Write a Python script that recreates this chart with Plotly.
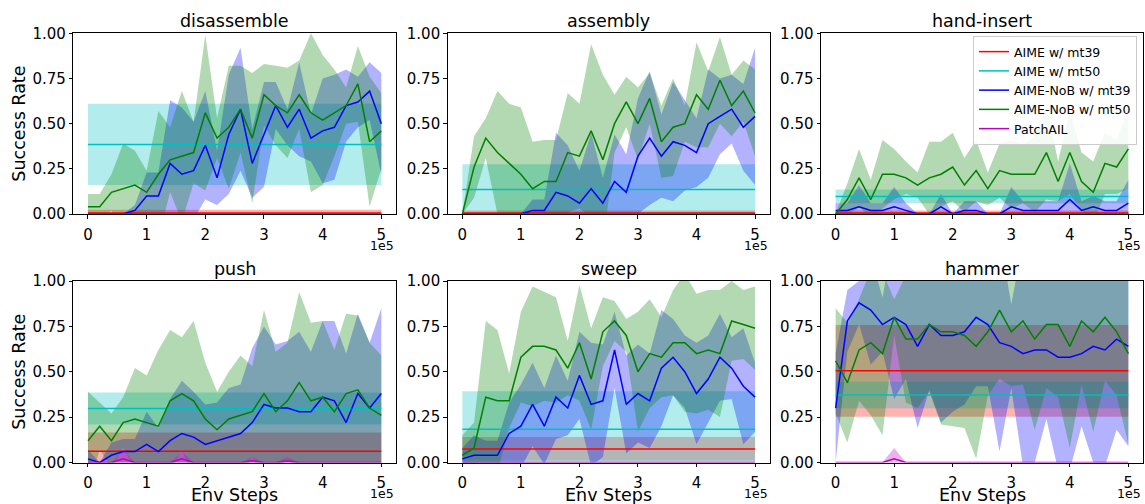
import numpy as np
import plotly.graph_objects as go

# ---------------- data ----------------
TASKS = ["disassemble", "assembly", "hand-insert", "push", "sweep", "hammer"]
STEPS = [0, 20000, 40000, 60000, 80000, 100000, 120000, 140000, 160000, 180000,
         200000, 220000, 240000, 260000, 280000, 300000, 320000, 340000, 360000,
         380000, 400000, 420000, 440000, 460000, 480000, 500000]
X_TICKS = [0, 100000, 200000, 300000, 400000, 500000]
X_TICKTEXT = ["0", "1", "2", "3", "4", "5"]
Y_TICKS = [0, 0.25, 0.5, 0.75, 1.0]

# AIME (constant baselines) per task, in TASKS order
AIME_MT39_MEAN = [0.006, 0.005, 0.005, 0.062, 0.075, 0.505]
AIME_MT39_STD = [0.018, 0.015, 0.015, 0.103, 0.065, 0.253]
AIME_MT50_MEAN = [0.385, 0.135, 0.097, 0.297, 0.183, 0.372]
AIME_MT50_STD = [0.225, 0.140, 0.038, 0.088, 0.210, 0.073]

# AIME-NoB w/ mt39 (blue)
disassemble_nob39_mean = [0, 0, 0, 0, 0.02, 0.10, 0.10, 0.28, 0.22, 0.24, 0.38, 0.20, 0.44, 0.58, 0.28, 0.44, 0.60, 0.48, 0.58, 0.42, 0.46, 0.48, 0.60, 0.62, 0.68, 0.50]
disassemble_nob39_std = [0, 0, 0, 0, 0.03, 0.13, 0.13, 0.35, 0.37, 0.27, 0.30, 0.15, 0.33, 0.34, 0.19, 0.29, 0.13, 0.10, 0.26, 0.13, 0.29, 0.29, 0.20, 0.14, 0.16, 0.28]
assembly_nob39_mean = [0, 0, 0, 0, 0, 0, 0.02, 0.02, 0.12, 0.10, 0.06, 0.14, 0.06, 0.18, 0.12, 0.32, 0.42, 0.32, 0.40, 0.38, 0.34, 0.50, 0.54, 0.58, 0.48, 0.54]
assembly_nob39_std = [0, 0, 0, 0, 0, 0, 0.06, 0.06, 0.33, 0.28, 0.18, 0.31, 0.14, 0.26, 0.21, 0.32, 0.37, 0.23, 0.33, 0.25, 0.19, 0.30, 0.21, 0.19, 0.24, 0.38]
handinsert_nob39_mean = [0.02, 0.02, 0.04, 0.02, 0.02, 0.04, 0.02, 0, 0, 0.04, 0, 0.02, 0.02, 0, 0, 0.04, 0.02, 0.02, 0.02, 0.02, 0.08, 0.02, 0.04, 0.02, 0.02, 0.06]
handinsert_nob39_std = [0.04, 0.04, 0.12, 0.04, 0.04, 0.11, 0.04, 0, 0, 0.07, 0, 0.05, 0.05, 0, 0, 0.11, 0.05, 0.05, 0.05, 0.05, 0.20, 0.05, 0.06, 0.05, 0.05, 0.13]
push_nob39_mean = [0.02, 0, 0.04, 0.06, 0.06, 0.10, 0.06, 0.12, 0.16, 0.14, 0.10, 0.12, 0.14, 0.16, 0.22, 0.32, 0.30, 0.30, 0.28, 0.28, 0.36, 0.34, 0.22, 0.38, 0.30, 0.38]
push_nob39_std = [0.05, 0, 0.07, 0.07, 0.07, 0.18, 0.13, 0.23, 0.29, 0.25, 0.22, 0.21, 0.27, 0.27, 0.41, 0.43, 0.35, 0.37, 0.44, 0.33, 0.42, 0.44, 0.38, 0.44, 0.36, 0.47]
sweep_nob39_mean = [0.02, 0.04, 0.04, 0.04, 0.16, 0.20, 0.32, 0.20, 0.36, 0.30, 0.48, 0.32, 0.34, 0.62, 0.32, 0.38, 0.34, 0.52, 0.58, 0.50, 0.38, 0.46, 0.58, 0.52, 0.42, 0.36]
sweep_nob39_std = [0.06, 0.11, 0.08, 0.08, 0.17, 0.23, 0.23, 0.21, 0.23, 0.15, 0.24, 0.34, 0.31, 0.21, 0.27, 0.27, 0.26, 0.32, 0.21, 0.20, 0.28, 0.24, 0.24, 0.17, 0.32, 0.19]
hammer_nob39_mean = [0.30, 0.78, 0.88, 0.84, 0.76, 0.80, 0.76, 0.64, 0.76, 0.70, 0.70, 0.72, 0.80, 0.76, 0.66, 0.64, 0.60, 0.62, 0.62, 0.58, 0.58, 0.60, 0.64, 0.62, 0.68, 0.64]
hammer_nob39_std = [0.30, 0.17, 0.12, 0.30, 0.15, 0.45, 0.30, 0.45, 0.36, 0.48, 0.42, 0.40, 0.38, 0.34, 0.60, 0.23, 0.62, 0.62, 0.38, 0.62, 0.62, 0.40, 0.64, 0.64, 0.50, 0.55]

# AIME-NoB w/ mt50 (green)
disassemble_nob50_mean = [0.04, 0.04, 0.12, 0.14, 0.16, 0.12, 0.22, 0.30, 0.32, 0.34, 0.56, 0.42, 0.48, 0.58, 0.42, 0.66, 0.60, 0.56, 0.66, 0.56, 0.52, 0.56, 0.60, 0.72, 0.40, 0.46]
disassemble_nob50_std = [0.07, 0.07, 0.10, 0.25, 0.19, 0.12, 0.35, 0.18, 0.36, 0.17, 0.43, 0.11, 0.34, 0.24, 0.36, 0.17, 0.22, 0.25, 0.19, 0.44, 0.36, 0.24, 0.10, 0.21, 0.36, 0.21]
assembly_nob50_mean = [0, 0.26, 0.42, 0.34, 0.28, 0.22, 0.14, 0.18, 0.18, 0.34, 0.32, 0.46, 0.30, 0.50, 0.62, 0.50, 0.64, 0.40, 0.48, 0.50, 0.66, 0.58, 0.74, 0.60, 0.68, 0.56]
assembly_nob50_std = [0, 0.17, 0.11, 0.34, 0.33, 0.37, 0.26, 0.23, 0.23, 0.33, 0.29, 0.48, 0.47, 0.16, 0.14, 0.20, 0.14, 0.20, 0.27, 0.10, 0.29, 0.21, 0.24, 0.17, 0.17, 0.24]
handinsert_nob50_mean = [0, 0.08, 0.20, 0.08, 0.22, 0.22, 0.20, 0.16, 0.20, 0.22, 0.26, 0.16, 0.24, 0.14, 0.24, 0.22, 0.22, 0.22, 0.34, 0.18, 0.34, 0.18, 0.12, 0.28, 0.26, 0.36]
handinsert_nob50_std = [0, 0.09, 0.16, 0.11, 0.19, 0.14, 0.09, 0.07, 0.20, 0.18, 0.19, 0.15, 0.17, 0.09, 0.15, 0.19, 0.16, 0.21, 0.26, 0.11, 0.23, 0.16, 0.17, 0.17, 0.15, 0.22]
push_nob50_mean = [0.12, 0.20, 0.12, 0.22, 0.24, 0.22, 0.20, 0.34, 0.38, 0.34, 0.24, 0.18, 0.24, 0.26, 0.28, 0.38, 0.28, 0.34, 0.44, 0.34, 0.36, 0.28, 0.38, 0.40, 0.30, 0.26]
push_nob50_std = [0.27, 0.13, 0.15, 0.14, 0.28, 0.26, 0.42, 0.39, 0.31, 0.44, 0.31, 0.21, 0.26, 0.33, 0.25, 0.46, 0.33, 0.32, 0.50, 0.43, 0.42, 0.34, 0.44, 0.41, 0.36, 0.33]
sweep_nob50_mean = [0.04, 0.08, 0.36, 0.34, 0.34, 0.58, 0.64, 0.64, 0.62, 0.52, 0.66, 0.46, 0.72, 0.78, 0.70, 0.50, 0.60, 0.58, 0.66, 0.66, 0.60, 0.62, 0.60, 0.78, 0.76, 0.74]
sweep_nob50_std = [0.11, 0.14, 0.42, 0.39, 0.15, 0.25, 0.33, 0.30, 0.29, 0.15, 0.32, 0.28, 0.19, 0.11, 0.09, 0.33, 0.30, 0.22, 0.29, 0.38, 0.33, 0.33, 0.35, 0.22, 0.19, 0.23]
hammer_nob50_mean = [0.56, 0.44, 0.62, 0.66, 0.60, 0.80, 0.68, 0.68, 0.76, 0.72, 0.72, 0.70, 0.64, 0.72, 0.84, 0.72, 0.78, 0.68, 0.76, 0.76, 0.64, 0.78, 0.72, 0.80, 0.72, 0.60]
hammer_nob50_std = [0.29, 0.33, 0.28, 0.40, 0.45, 0.10, 0.35, 0.38, 0.37, 0.51, 0.52, 0.51, 0.62, 0.35, 0.38, 0.30, 0.35, 0.50, 0.35, 0.40, 0.56, 0.35, 0.55, 0.35, 0.35, 0.50]

# PatchAIL (magenta)
ZERO26 = [0] * 26
disassemble_patchail_mean = ZERO26
disassemble_patchail_std = ZERO26
assembly_patchail_mean = ZERO26
assembly_patchail_std = ZERO26
handinsert_patchail_mean = ZERO26
handinsert_patchail_std = ZERO26
push_patchail_mean = [0, 0, 0, 0.02, 0, 0, 0, 0, 0.02, 0, 0, 0, 0, 0, 0.01, 0, 0, 0.01, 0, 0, 0, 0, 0, 0, 0, 0]
push_patchail_std = [0, 0, 0, 0.05, 0, 0, 0, 0, 0.04, 0, 0, 0, 0, 0, 0.02, 0, 0, 0.02, 0, 0, 0, 0, 0, 0, 0, 0]
sweep_patchail_mean = ZERO26
sweep_patchail_std = ZERO26
hammer_patchail_mean = [0, 0, 0, 0, 0, 0.02, 0, 0, 0, 0, 0, 0, 0, 0, 0, 0, 0, 0, 0, 0, 0, 0, 0, 0, 0, 0]
hammer_patchail_std = [0, 0, 0, 0, 0, 0.06, 0, 0, 0, 0, 0, 0, 0, 0, 0, 0, 0, 0, 0, 0, 0, 0, 0, 0, 0, 0]

NOB39 = [(disassemble_nob39_mean, disassemble_nob39_std), (assembly_nob39_mean, assembly_nob39_std),
         (handinsert_nob39_mean, handinsert_nob39_std), (push_nob39_mean, push_nob39_std),
         (sweep_nob39_mean, sweep_nob39_std), (hammer_nob39_mean, hammer_nob39_std)]
NOB50 = [(disassemble_nob50_mean, disassemble_nob50_std), (assembly_nob50_mean, assembly_nob50_std),
         (handinsert_nob50_mean, handinsert_nob50_std), (push_nob50_mean, push_nob50_std),
         (sweep_nob50_mean, sweep_nob50_std), (hammer_nob50_mean, hammer_nob50_std)]
PATCH = [(disassemble_patchail_mean, disassemble_patchail_std), (assembly_patchail_mean, assembly_patchail_std),
         (handinsert_patchail_mean, handinsert_patchail_std), (push_patchail_mean, push_patchail_std),
         (sweep_patchail_mean, sweep_patchail_std), (hammer_patchail_mean, hammer_patchail_std)]

SERIES_NAMES = ["AIME w/ mt39", "AIME w/ mt50", "AIME-NoB w/ mt39", "AIME-NoB w/ mt50", "PatchAIL"]
LINE_COLORS = ["#ff0000", "#00bfbf", "#0000ff", "#008000", "#bf00bf"]
FILL_COLORS = ["rgba(255,0,0,0.3)", "rgba(0,191,191,0.3)", "rgba(0,0,255,0.3)",
               "rgba(0,128,0,0.3)", "rgba(191,0,191,0.3)"]

# ---------------- layout geometry ----------------
W, H = 1145, 504
FONT = "DejaVu Sans"
COL_PX = [(73.3, 396.0), (447.7, 769.7), (821.0, 1143.0)]
ROW_PX = [(33.3, 214.0), (281.0, 462.5)]

def px_x(p):
    return p / W

def px_y(p):
    return 1 - p / H

fig = go.Figure()

def band(x, mean, std, ci, xa, ya):
    m = np.asarray(mean, float)
    s = np.asarray(std, float)
    up = m + s
    lo = m - s
    xs = list(x) + list(x)[::-1]
    ys = list(up) + list(lo)[::-1]
    fig.add_trace(go.Scatter(x=xs, y=ys, fill="toself", fillcolor=FILL_COLORS[ci],
                             line=dict(width=0), mode="lines", hoverinfo="skip",
                             showlegend=False, xaxis=xa, yaxis=ya))

def line(x, mean, ci, xa, ya, show):
    fig.add_trace(go.Scatter(x=list(x), y=list(mean), mode="lines",
                             line=dict(color=LINE_COLORS[ci], width=1.5),
                             name=SERIES_NAMES[ci], legendgroup=SERIES_NAMES[ci],
                             showlegend=show, xaxis=xa, yaxis=ya))

annotations = []
layout_axes = {}
for k, task in enumerate(TASKS):
    r, c = divmod(k, 3)
    n = k + 1
    xa = "x" if n == 1 else f"x{n}"
    ya = "y" if n == 1 else f"y{n}"
    show = (k == 0)
    xline = [STEPS[0], STEPS[-1]]
    series = [
        (xline, [AIME_MT39_MEAN[k]] * 2, [AIME_MT39_STD[k]] * 2),
        (xline, [AIME_MT50_MEAN[k]] * 2, [AIME_MT50_STD[k]] * 2),
        (STEPS, NOB39[k][0], NOB39[k][1]),
        (STEPS, NOB50[k][0], NOB50[k][1]),
        (STEPS, PATCH[k][0], PATCH[k][1]),
    ]
    # bands first (below), then mean lines on top
    for ci, (xs, m, s) in enumerate(series):
        band(xs, m, s, ci, xa, ya)
    for ci, (xs, m, s) in enumerate(series):
        line(xs, m, ci, xa, ya, show)

    x0, x1 = COL_PX[c]
    y0, y1 = ROW_PX[r]
    axkw = dict(showline=True, mirror=True, linecolor="#000000", linewidth=1,
                ticks="outside", ticklen=3.5, tickwidth=1, tickcolor="#000000",
                showgrid=False, zeroline=False, automargin=False,
                tickfont=dict(family=FONT, size=15, color="#000000"))
    layout_axes["xaxis" if n == 1 else f"xaxis{n}"] = dict(
        domain=[px_x(x0), px_x(x1)], range=[-25000, 525000],
        tickvals=X_TICKS, ticktext=X_TICKTEXT, anchor=ya, ticklabelstandoff=3, **axkw)
    layout_axes["yaxis" if n == 1 else f"yaxis{n}"] = dict(
        domain=[px_y(y1), px_y(y0)], range=[0, 1.0],
        tickvals=Y_TICKS, tickformat=".2f", anchor=xa, **axkw)

    cx = (x0 + x1) / 2
    annotations.append(dict(text=task, x=px_x(cx), y=px_y(y0 - 12.3), xref="paper", yref="paper",
                            showarrow=False, xanchor="center", yanchor="middle",
                            font=dict(family=FONT, size=17.5, color="#000000")))
    annotations.append(dict(text="1e5", x=px_x(x1), y=px_y(y1 + 31), xref="paper", yref="paper",
                            showarrow=False, xanchor="right", yanchor="middle",
                            font=dict(family=FONT, size=12.5, color="#000000")))
    if r == 1:
        annotations.append(dict(text="Env Steps", x=px_x(cx), y=px_y(495), xref="paper", yref="paper",
                                showarrow=False, xanchor="center", yanchor="middle",
                                font=dict(family=FONT, size=17.5, color="#000000")))
    if c == 0:
        annotations.append(dict(text="Success Rate", x=px_x(19), y=px_y((y0 + y1) / 2), xref="paper",
                                yref="paper", showarrow=False, textangle=-90,
                                xanchor="center", yanchor="middle",
                                font=dict(family=FONT, size=17.5, color="#000000")))

fig.update_layout(
    width=W, height=H, autosize=False,
    margin=dict(l=0, r=0, t=0, b=0, autoexpand=False),
    paper_bgcolor="white", plot_bgcolor="white",
    font=dict(family=FONT, color="#000000"),
    annotations=annotations,
    legend=dict(x=px_x(1137), y=px_y(36), xanchor="right", yanchor="top",
                bgcolor="rgba(255,255,255,0.85)", bordercolor="#cccccc", borderwidth=1,
                font=dict(family=FONT, size=12.5, color="#000000"),
                itemwidth=30, tracegroupgap=0),
    **layout_axes,
)

fig.write_html("out.html", config={"displayModeBar": False},
               post_script="document.body.style.margin='0';document.body.style.overflow='hidden';")
